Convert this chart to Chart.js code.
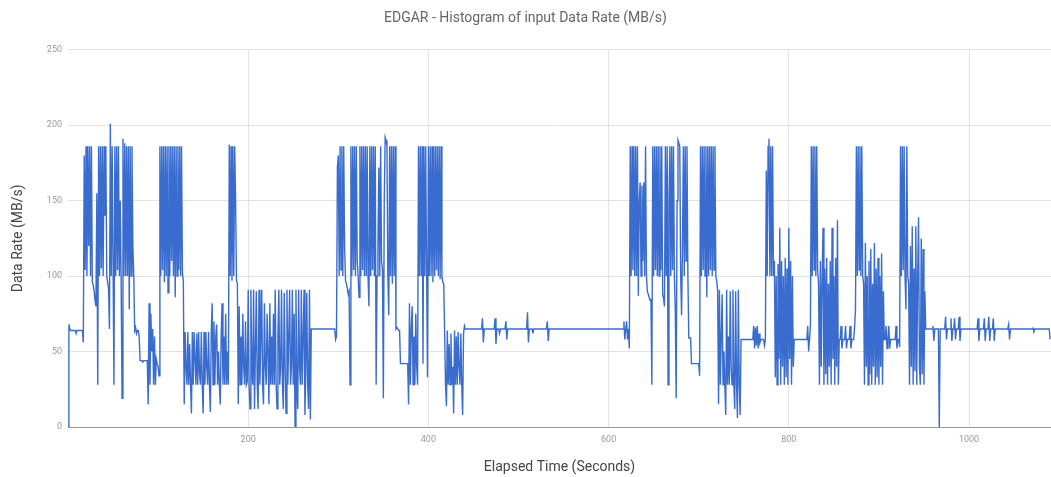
<!DOCTYPE html>
<html>
<head>
<meta charset="utf-8">
<title>EDGAR - Histogram of input Data Rate</title>
<script src="https://cdn.jsdelivr.net/npm/chart.js@4/dist/chart.umd.min.js"></script>
<style>
  html, body { margin: 0; padding: 0; background: #fff; }
  #wrap { width: 1051px; height: 477px; position: relative; }
</style>
</head>
<body>
<div id="wrap"><canvas id="chart"></canvas></div>
<script>
// one sample per second inside each segment, segment starts at the given second
const step = 1;

const warmupStart = 0;
const warmup = [0, 68, 65, 64, 64, 64, 64, 64, 64, 62, 64, 64, 64, 64, 64, 64, 64, 56];

const burst1Start = 18;
const burst1 = [
  180, 104, 186, 100, 186, 120, 186, 100, 186, 96,
  94, 90, 84, 80, 155, 28, 186, 100, 186, 105,
  186, 100, 186, 140, 186, 100, 96, 92, 65, 201,
  100, 186, 110, 28, 186, 100, 186, 104, 186, 100,
  150, 95, 19, 191, 100, 188, 100, 186, 100, 186,
  78, 186, 100, 186, 120, 100, 64, 66, 62, 64,
  64, 60, 44, 44, 44, 43, 44, 44, 44, 44,
  44, 15, 82, 28, 75, 50, 65, 28, 60, 28,
  45, 42, 40, 34, 186, 100, 186, 104, 186, 96,
  186, 100, 186, 89, 186, 100, 186, 110, 186, 100,
  186, 86, 186, 100, 186, 104, 186, 100, 186, 102,
  97, 15
];

const lowBand1Start = 130;
const lowBand1 = [
  63, 40, 28, 63, 28, 55, 28, 9, 63, 28,
  63, 45, 28, 62, 28, 63, 35, 28, 63, 28,
  9, 63, 28, 63, 40, 28, 63, 28, 10, 63,
  82, 28, 70, 28, 60, 68, 28, 50, 28, 15,
  60, 82, 28, 60, 28, 75, 28, 50, 28, 187,
  100, 186, 97, 186, 100, 186, 150, 97, 95, 15,
  80, 28, 60, 28, 75, 40, 28, 70, 28, 30,
  91, 28, 12, 91, 40, 28, 91, 12, 50, 90,
  28, 12, 91, 28, 60, 91, 28, 15, 82, 40,
  28, 75, 50, 15, 82, 28, 60, 28, 75, 28,
  91, 28, 12, 60, 91, 28, 40, 91, 28, 12,
  89, 40, 9, 91, 28, 60, 91, 28, 40, 91,
  28, 75, 0, 91, 28, 12, 91, 40, 28, 91,
  28, 60, 91, 8, 40, 89, 28, 12, 91, 5,
  65
];

const burst2Start = 296;
const burst2 = [
  65, 58, 60, 172, 180, 100, 186, 104, 186, 100,
  186, 120, 97, 95, 92, 88, 90, 28, 186, 100,
  186, 104, 186, 100, 186, 110, 100, 86, 186, 100,
  186, 104, 186, 100, 186, 100, 186, 100, 80, 186,
  100, 186, 104, 186, 100, 186, 28, 100, 120, 172,
  100, 186, 110, 104, 19, 150, 192, 190, 186, 100,
  74, 186, 100, 186, 95, 186, 100, 186, 65, 66,
  65, 64, 64, 42, 42, 42, 42, 42, 42, 42,
  42, 42, 15, 82, 28, 65, 80, 28, 60, 28,
  75, 40, 28, 186, 100, 186, 100, 186, 42, 186,
  100, 186, 104, 33, 186, 100, 186, 100, 186, 96,
  186, 100, 186, 104, 186, 100, 186, 98, 186, 100,
  96, 95, 64, 28, 14, 64, 28, 55, 28, 62,
  28, 40, 9, 64, 28, 60, 28, 63, 40, 28,
  62, 28, 8, 62, 67, 65, 65
];

// idle stretches: explicit seconds, line is straight between them
const idle1Seconds = [443, 459, 460, 461, 462, 473, 474, 475, 476, 478, 479, 480,
  485, 486, 487, 488, 509, 510, 511, 512, 515, 516, 517, 531, 532, 533, 534,
  616, 617, 618, 619, 620, 621, 622, 623];
const idle1Rate = [65, 65, 72, 56, 65, 65, 72, 55, 65, 65, 62, 65,
  65, 70, 58, 65, 65, 76, 56, 65, 65, 62, 65, 65, 70, 57, 65,
  65, 70, 58, 65, 70, 58, 65, 52];

const burst3Start = 624;
const burst3 = [
  186, 100, 186, 104, 186, 100, 186, 100, 186, 87,
  150, 162, 100, 160, 110, 162, 100, 186, 100, 90,
  88, 86, 84, 85, 28, 186, 100, 186, 104, 186,
  100, 186, 100, 186, 104, 186, 88, 85, 80, 186,
  100, 186, 28, 150, 186, 100, 186, 104, 186, 100,
  78, 19, 150, 190, 188, 186, 100, 74, 120, 186,
  100, 186, 110, 186, 100, 59, 59, 59, 42, 42,
  42, 42, 42, 42, 42, 42, 42, 34, 186, 100,
  186, 104, 186, 100, 186, 86, 186, 100, 186, 104,
  186, 100, 186, 104, 186, 100, 97, 90, 15, 91,
  28, 60, 88, 28, 50, 28, 8, 91, 28, 60,
  28, 90, 40, 28, 91, 28, 12, 90, 28, 6,
  91, 28, 8, 58
];

const burst4Start = 760;
const burst4 = [
  58, 67, 52, 66, 54, 67, 52, 62, 56, 58,
  58, 58, 58, 54, 58, 170, 100, 186, 191, 100,
  186, 100, 186, 100, 110, 33, 100, 28, 108, 45,
  132, 28, 110, 40, 100, 28, 112, 33, 105, 28,
  132, 45, 110, 28, 100, 40, 58
];

const burst5Start = 820;
const burst5 = [
  58, 67, 50, 58, 67, 186, 100, 186, 104, 186,
  100, 186, 104, 95, 28, 110, 40, 100, 132, 28,
  105, 35, 112, 28, 95, 40, 110, 28, 132, 45,
  100, 28, 112, 40, 137, 28, 58, 58, 67, 52,
  58, 58, 58, 67, 52, 58, 58, 58, 67, 52,
  58, 58, 58, 66, 78, 186, 100, 186, 104, 186,
  100, 186, 100, 95, 28, 122, 40, 100, 28, 110,
  35, 118, 28, 95, 40, 122, 28, 105, 33, 112,
  28, 100, 40, 115, 28, 90, 58, 58, 67, 52,
  58, 67, 52, 58, 58, 58, 58, 58, 58, 67,
  52, 58, 58, 53, 186, 100, 186, 104, 186, 100,
  78, 186, 100, 95, 28, 120, 40, 133, 28, 105,
  37, 133, 28, 100, 139, 40, 28, 125, 35, 118,
  28, 90, 65
];

const idle2Seconds = [959, 960, 961, 962, 966, 967, 968, 973, 974, 975, 976,
  979, 980, 981, 982, 983, 984, 985, 986, 988, 989, 990, 991,
  1009, 1010, 1011, 1012, 1016, 1017, 1018, 1019, 1021, 1022, 1023, 1024,
  1026, 1027, 1028, 1029, 1043, 1044, 1045, 1046, 1070, 1071, 1072, 1073, 1089, 1090];
const idle2Rate = [65, 67, 57, 65, 65, 0, 65, 65, 73, 58, 65,
  65, 72, 57, 65, 65, 72, 58, 65, 65, 73, 57, 65,
  65, 72, 57, 65, 65, 72, 57, 65, 65, 73, 57, 65,
  65, 72, 57, 65, 65, 68, 58, 65, 65, 66, 63, 65, 65, 58];

const xTicks = [200, 400, 600, 800, 1000];
const yTicks = [0, 50, 100, 150, 200, 250];

function fromSegment(start, values) {
  return values.map((v, i) => ({ x: start + i * step, y: v }));
}
function fromPairs(secs, values) {
  return secs.map((s, i) => ({ x: s, y: values[i] }));
}

const points = [].concat(
  fromSegment(warmupStart, warmup),
  fromSegment(burst1Start, burst1),
  fromSegment(lowBand1Start, lowBand1),
  fromSegment(burst2Start, burst2),
  fromPairs(idle1Seconds, idle1Rate),
  fromSegment(burst3Start, burst3),
  fromSegment(burst4Start, burst4),
  fromSegment(burst5Start, burst5),
  fromPairs(idle2Seconds, idle2Rate)
);

const ctx = document.getElementById('chart').getContext('2d');
const chart = new Chart(ctx, {
  type: 'line',
  data: {
    datasets: [{
      label: 'Data Rate',
      data: points,
      borderColor: '#3a6ccf',
      borderWidth: 1.4,
      pointRadius: 0,
      fill: false,
      tension: 0
    }]
  },
  options: {
    responsive: true,
    maintainAspectRatio: false,
    animation: false,
    layout: { padding: 0 },
    plugins: {
      legend: { display: false },
      tooltip: { enabled: false },
      title: {
        display: true,
        text: 'EDGAR - Histogram of input Data Rate (MB/s)',
        color: '#666',
        font: { family: 'Roboto', size: 14, weight: 'normal' },
        padding: { top: 10, bottom: 23 }
      }
    },
    scales: {
      x: {
        type: 'linear',
        min: 0,
        max: 1091,
        afterBuildTicks: axis => { axis.ticks = xTicks.map(v => ({ value: v })); },
        afterFit: axis => { axis.height = 50; },
        grid: { color: '#e3e3e3', drawTicks: false },
        border: { color: '#999', width: 1 },
        ticks: {
          color: '#999',
          font: { family: 'Roboto', size: 9 },
          padding: 7,
          maxRotation: 0,
          callback: v => String(v)
        },
        title: {
          display: true,
          text: 'Elapsed Time (Seconds)',
          color: '#444',
          font: { family: 'Roboto', size: 14 },
          padding: { top: 0, bottom: 1 }
        }
      },
      y: {
        min: 0,
        max: 250,
        afterBuildTicks: axis => { axis.ticks = yTicks.map(v => ({ value: v })); },
        afterFit: axis => { axis.width = 68; },
        grid: { color: '#e3e3e3', drawTicks: false },
        border: { display: false },
        ticks: { color: '#999', font: { family: 'Roboto', size: 9 }, padding: 6 },
        title: {
          display: true,
          text: 'Data Rate (MB/s)',
          color: '#444',
          font: { family: 'Roboto', size: 14 },
          padding: { top: 10, bottom: 0 }
        }
      }
    }
  }
});
</script>
</body>
</html>
